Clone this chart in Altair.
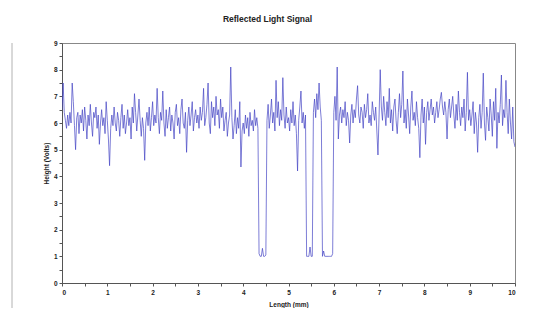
import altair as alt
import pandas as pd
import numpy as np

# Sampling grid step (mm) and the voltage readings, one list per millimetre
step = 0.025
seg0 = [6.5, 7.5, 6.4, 6.1, 5.8, 6.3, 5.9, 6.4, 6.0, 7.5, 6.8, 5.9, 5.0, 6.2, 6.4, 5.6, 6.3, 6.0, 6.5, 5.7,
        6.6, 6.1, 5.4, 6.3, 5.9, 6.7, 6.0, 5.5, 6.4, 6.2, 6.6, 5.8, 6.3, 5.2, 6.0, 6.5, 5.9, 6.2, 5.6, 6.8]
seg1 = [6.1, 5.4, 4.4, 5.8, 6.3, 5.9, 6.6, 6.0, 5.7, 6.4, 6.1, 5.5, 6.2, 6.7, 5.8, 6.3, 5.6, 6.0, 6.5, 5.9,
        6.2, 5.4, 6.6, 6.0, 7.1, 6.4, 5.7, 6.3, 6.9, 6.1, 5.5, 6.2, 5.8, 4.6, 6.0, 6.4, 5.9, 6.6, 5.7, 6.2]
seg2 = [6.8, 5.9, 6.3, 6.0, 7.3, 6.2, 5.6, 6.4, 6.1, 7.2, 6.0, 5.5, 6.5, 5.8, 6.2, 6.6, 5.7, 6.3, 6.0, 5.4,
        6.4, 6.7, 5.9, 6.2, 5.6, 6.5, 6.9, 6.0, 5.8, 6.4, 4.9, 6.1, 6.6, 5.9, 6.3, 6.8, 5.7, 6.2, 6.5, 6.0]
seg3 = [6.3, 5.8, 6.6, 6.1, 6.4, 7.3, 5.9, 6.2, 6.7, 7.5, 6.0, 5.6, 6.8, 6.2, 6.6, 5.9, 7.0, 6.3, 6.5, 5.8,
        6.9, 6.2, 6.6, 5.7, 6.1, 6.4, 5.5, 6.0, 6.3, 8.1, 6.2, 5.4, 5.9, 6.5, 5.6, 6.2, 5.8, 6.8, 4.35, 5.7]
seg4 = [6.0, 5.6, 6.3, 5.8, 6.2, 5.5, 6.4, 5.9, 6.1, 5.7, 6.5, 5.9, 6.2, 5.8, 1.1, 1.0, 1.0, 1.3, 1.0, 1.0,
        1.05, 6.1, 6.7, 5.8, 6.3, 6.9, 6.0, 6.4, 5.7, 7.6, 6.2, 6.8, 5.9, 6.5, 6.1, 7.7, 6.3, 5.8, 6.6, 6.0]
seg5 = [6.2, 5.7, 6.5, 6.0, 6.8, 5.9, 6.3, 5.6, 4.2, 6.1, 6.6, 7.2, 6.0, 6.4, 5.8, 6.3, 1.0, 1.0, 1.0, 1.35,
        1.0, 1.0, 6.4, 6.9, 6.2, 7.1, 6.5, 7.5, 6.6, 6.1, 1.0, 1.2, 1.0, 1.0, 1.0, 1.0, 1.0, 1.0, 1.0, 1.1]
seg6 = [6.4, 7.0, 6.1, 8.1, 5.4, 6.3, 6.6, 6.0, 6.5, 6.2, 6.8, 5.9, 6.4, 6.1, 5.25, 6.3, 6.7, 6.0, 6.5, 6.2,
        6.9, 7.4, 6.3, 6.0, 6.6, 6.4, 5.8, 6.7, 6.2, 6.5, 7.1, 6.0, 6.3, 5.9, 6.8, 6.4, 6.1, 6.6, 5.7, 4.8]
seg7 = [6.3, 8.0, 6.6, 6.1, 7.0, 6.4, 5.9, 6.8, 6.2, 7.3, 6.0, 6.5, 5.7, 6.6, 6.9, 6.1, 5.6, 6.4, 7.1, 6.2,
        6.7, 7.95, 6.0, 6.5, 5.8, 6.9, 6.3, 5.6, 6.6, 7.2, 6.1, 6.4, 5.9, 6.8, 6.2, 5.8, 4.7, 6.3, 6.9, 6.0]
seg8 = [6.6, 5.2, 6.4, 6.8, 6.1, 6.5, 6.9, 6.3, 6.6, 6.0, 6.4, 6.8, 6.2, 6.5, 6.9, 7.15, 6.6, 6.3, 6.8, 6.4,
        5.4, 6.5, 6.9, 6.2, 6.6, 7.0, 6.3, 5.8, 6.7, 6.1, 7.2, 6.4, 5.9, 6.6, 6.2, 6.9, 5.7, 6.4, 7.9, 6.1]
seg9 = [6.5, 5.9, 6.3, 6.8, 5.6, 6.4, 6.0, 4.9, 6.2, 6.7, 5.8, 6.4, 7.87, 6.0, 5.35, 6.6, 6.2, 5.7, 6.9, 6.3,
        5.5, 6.8, 6.1, 7.3, 5.05, 6.4, 6.0, 6.7, 7.8, 5.9, 6.5, 6.2, 7.6, 6.4, 5.6, 6.9, 6.0, 5.4, 6.6, 5.3, 5.1]

volts = seg0 + seg1 + seg2 + seg3 + seg4 + seg5 + seg6 + seg7 + seg8 + seg9
length = [round(i * step, 4) for i in range(len(volts))]

x_ticks = [i * 0.5 for i in range(21)]
y_ticks = [i * 0.5 for i in range(19)]

df = pd.DataFrame({"length": length, "volts": volts})

FONT = "Liberation Sans"
LABEL = "datum.value % 1 == 0 ? format(datum.value, 'd') : ''"

line = alt.Chart(df).mark_line(color="#4545c4", strokeWidth=0.7, clip=True).encode(
    x=alt.X("length:Q", scale=alt.Scale(domain=[0, 10], nice=False, zero=False),
            axis=alt.Axis(values=x_ticks, title="Length (mm)", labelExpr=LABEL,
                          grid=False, tickSize=3, labelPadding=3, titlePadding=6)),
    y=alt.Y("volts:Q", scale=alt.Scale(domain=[0, 9], nice=False, zero=False),
            axis=alt.Axis(values=y_ticks, title="Height (Volts)", labelExpr=LABEL,
                          grid=False, tickSize=3, labelPadding=2, titlePadding=4)),
)

edge = alt.Chart(df).mark_rule(color="#d8d8d8", strokeWidth=1).encode(
    x=alt.value(-50), y=alt.value(0), y2=alt.value(290)
)

chart = alt.layer(edge, line).properties(
    width=453, height=240,
    title=alt.TitleParams("Reflected Light Signal", fontSize=8.5, font=FONT, fontWeight="bold",
                          anchor="middle", frame="group", dx=-21, offset=17, color="#222222"),
    autosize=alt.AutoSizeParams(type="none"),
    padding={"left": 54, "top": 35, "right": 14, "bottom": 25},
).configure_view(
    stroke="#888888", strokeWidth=1
).configure_axis(
    labelFont=FONT, titleFont=FONT, labelFontSize=6.5, titleFontSize=6.5,
    labelFontWeight="bold", titleFontWeight="bold", labelColor="#222222", titleColor="#222222",
    domainColor="#555555", tickColor="#555555", domainWidth=1, tickWidth=1
)

chart.save("out.html", embed_options={"renderer": "svg", "actions": False})
